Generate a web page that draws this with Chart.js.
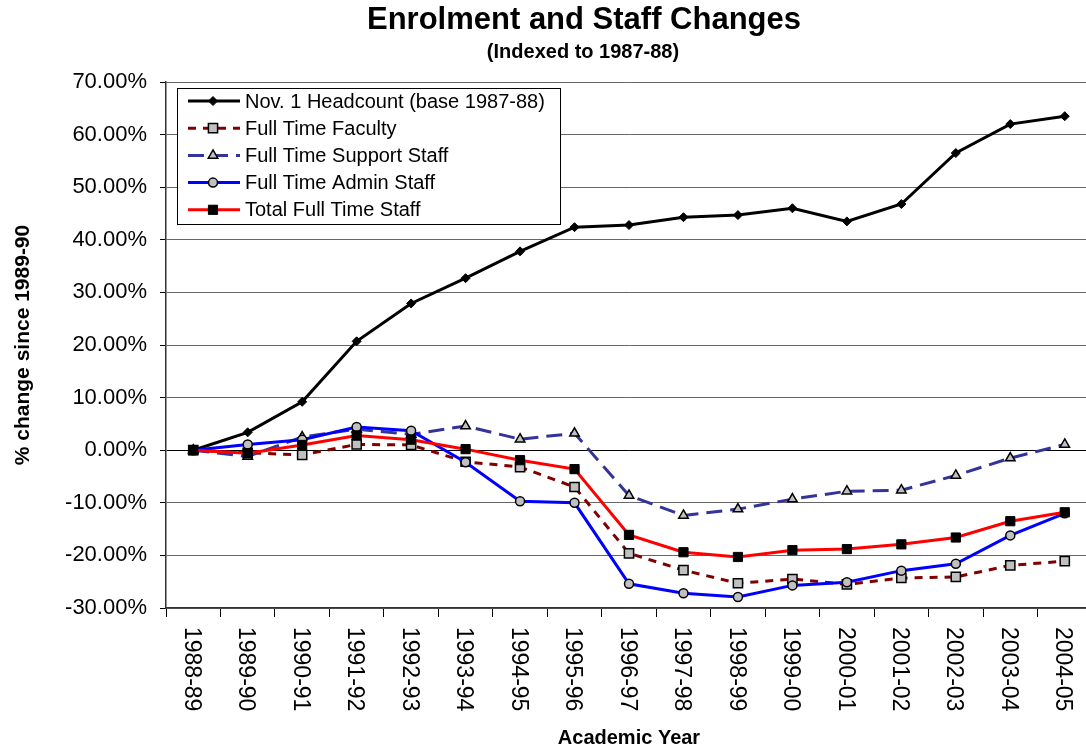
<!DOCTYPE html>
<html>
<head>
<meta charset="utf-8">
<title>Enrolment and Staff Changes</title>
<script src="https://cdn.jsdelivr.net/npm/chart.js@4.4.0/dist/chart.umd.min.js"></script>
<style>
  html, body { margin: 0; padding: 0; background: #fff; overflow: hidden; }
  #wrap { width: 1100px; height: 750px; }
</style>
</head>
<body>
<div id="wrap"><canvas id="chart" width="1100" height="750"></canvas></div>
<script>
const categories = ['1988-89', '1989-90', '1990-91', '1991-92', '1992-93', '1993-94', '1994-95', '1995-96',
    '1996-97', '1997-98', '1998-99', '1999-00', '2000-01', '2001-02', '2002-03', '2003-04', '2004-05'];

const headcount = [0, 3.4, 9.2, 20.7, 27.9, 32.7, 37.8, 42.4, 42.8, 44.3, 44.7, 46.0, 43.5, 46.8, 56.5, 62.0, 63.5];
const faculty = [0, -0.5, -0.9, 1.1, 1.0, -2.2, -3.2, -7.0, -19.6, -22.8, -25.3, -24.5, -25.5, -24.3, -24.1, -21.9, -21.1];
const support = [0, -1.2, 2.5, 4.0, 3.0, 4.6, 2.1, 3.2, -8.6, -12.4, -11.2, -9.3, -7.8, -7.6, -4.8, -1.5, 1.1];
const admin = [0, 1.1, 2.0, 4.4, 3.7, -2.3, -9.7, -10.0, -25.4, -27.2, -27.9, -25.7, -25.1, -22.9, -21.6, -16.2, -12.0];
const totalStaff = [0, -0.6, 1.0, 2.8, 2.0, 0.2, -1.9, -3.6, -16.1, -19.4, -20.3, -19.0, -18.8, -17.9, -16.6, -13.5, -11.8];

const yMin = -30;
const yMax = 70;
const yStep = 10;

const titleText = 'Enrolment and Staff Changes';
const subtitleText = '(Indexed to 1987-88)';

const FONT = '"Liberation Sans", Arial, Helvetica, sans-serif';
Chart.defaults.font.family = FONT;
Chart.defaults.color = '#000';

// Title block sits a bit right of the canvas centre in the original
const titleBlock = {
    id: 'titleBlock',
    afterDraw(chart) {
        const ctx = chart.ctx;
        ctx.save();
        ctx.fillStyle = '#000';
        ctx.textAlign = 'center';
        ctx.textBaseline = 'middle';
        ctx.font = 'bold 31px ' + FONT;
        ctx.fillText(titleText, 584, 20);
        ctx.font = 'bold 20px ' + FONT;
        ctx.fillText(subtitleText, 583, 52);
        ctx.restore();
    }
};

// Legend drawn inside the plot, like the original
const boxLegend = {
    id: 'boxLegend',
    afterDraw(chart) {
        const ctx = chart.ctx;
        const left = 177, top = 88, w = 383, h = 136;
        ctx.save();
        ctx.fillStyle = '#fff';
        ctx.fillRect(left, top, w, h);
        ctx.strokeStyle = '#000';
        ctx.lineWidth = 1;
        ctx.strokeRect(left + 0.5, top + 0.5, w, h);
        chart.data.datasets.forEach((ds, i) => {
            const y = 101 + i * 27.2;
            ctx.strokeStyle = ds.borderColor;
            ctx.lineWidth = ds.borderWidth;
            ctx.setLineDash(ds.borderDash || []);
            ctx.beginPath();
            ctx.moveTo(188, y);
            ctx.lineTo(240, y);
            ctx.stroke();
            ctx.setLineDash([]);
            ctx.fillStyle = ds.pointBackgroundColor;
            ctx.strokeStyle = ds.pointBorderColor;
            ctx.lineWidth = ds.pointBorderWidth;
            Chart.helpers.drawPoint(ctx, {
                pointStyle: ds.pointStyle,
                radius: ds.pointRadius,
                rotation: 0,
                borderWidth: ds.pointBorderWidth
            }, 213, y);
            ctx.fillStyle = '#000';
            ctx.font = '20px ' + FONT;
            ctx.textAlign = 'left';
            ctx.textBaseline = 'middle';
            ctx.fillText(ds.label, 245, y + 1);
        });
        ctx.restore();
    }
};

// Category labels rotated clockwise (top to bottom)
const downLabels = {
    id: 'downLabels',
    afterDraw(chart) {
        const ctx = chart.ctx;
        const xs = chart.scales.x;
        ctx.save();
        ctx.fillStyle = '#000';
        ctx.font = '23px ' + FONT;
        ctx.textAlign = 'left';
        ctx.textBaseline = 'middle';
        categories.forEach((c, i) => {
            const x = xs.getPixelForValue(i) - 2;
            ctx.save();
            ctx.translate(x, 627);
            ctx.rotate(Math.PI / 2);
            ctx.fillText(c, 0, 0);
            ctx.restore();
        });
        ctx.restore();
    }
};

const ctx = document.getElementById('chart').getContext('2d');
const chart = new Chart(ctx, {
    type: 'line',
    data: {
        labels: categories,
        datasets: [{
            label: 'Nov. 1 Headcount (base 1987-88)',
            data: headcount,
            borderColor: '#000000',
            borderWidth: 3,
            pointStyle: 'rectRot',
            pointRadius: 4.5,
            pointBackgroundColor: '#000000',
            pointBorderColor: '#000000',
            pointBorderWidth: 1,
            order: 4
        }, {
            label: 'Full Time Faculty',
            data: faculty,
            borderColor: '#800000',
            borderWidth: 3,
            borderDash: [8, 7],
            pointStyle: 'rect',
            pointRadius: 6.5,
            pointBackgroundColor: '#C0C0C0',
            pointBorderColor: '#000000',
            pointBorderWidth: 1.5,
            order: 3
        }, {
            label: 'Full Time Support Staff',
            data: support,
            borderColor: '#333399',
            borderWidth: 3,
            borderDash: [16, 8],
            pointStyle: 'triangle',
            pointRadius: 5.5,
            pointBackgroundColor: '#C0C0C0',
            pointBorderColor: '#000000',
            pointBorderWidth: 1.5,
            order: 2
        }, {
            label: 'Full Time Admin Staff',
            data: admin,
            borderColor: '#0000FF',
            borderWidth: 3,
            pointStyle: 'circle',
            pointRadius: 4.5,
            pointBackgroundColor: '#C0C0C0',
            pointBorderColor: '#000000',
            pointBorderWidth: 1.5,
            order: 1
        }, {
            label: 'Total Full Time Staff',
            data: totalStaff,
            borderColor: '#FF0000',
            borderWidth: 3,
            pointStyle: 'rect',
            pointRadius: 6.5,
            pointBackgroundColor: '#000000',
            pointBorderColor: '#000000',
            pointBorderWidth: 1,
            order: 0
        }]
    },
    options: {
        responsive: false,
        animation: false,
        layout: { padding: { left: 0, right: 3, top: 82, bottom: 0 } },
        elements: { line: { tension: 0 } },
        plugins: {
            legend: { display: false },
            tooltip: { enabled: false },
            title: { display: false }
        },
        scales: {
            x: {
                type: 'category',
                offset: true,
                afterFit(scale) { scale.height = 142; },
                grid: {
                    display: true,
                    drawOnChartArea: false,
                    offset: true,
                    tickLength: 9,
                    color: '#000',
                    lineWidth: 1
                },
                border: { display: true, color: '#333', width: 1.5 },
                ticks: { display: false },
                title: {
                    display: true,
                    text: 'Academic Year',
                    color: '#000',
                    font: { size: 20, weight: 'bold' },
                    padding: { top: 0, bottom: 0 }
                }
            },
            y: {
                min: yMin,
                max: yMax,
                afterFit(scale) { scale.width = 166; },
                grid: {
                    color: ctx => ctx.tick && ctx.tick.value === 0 ? '#000' : '#666',
                    lineWidth: 1,
                    tickLength: 6,
                    tickColor: '#000'
                },
                border: { display: true, color: '#333', width: 1.5 },
                ticks: {
                    stepSize: yStep,
                    color: '#000',
                    padding: 13,
                    font: { size: 22 },
                    callback: v => v.toFixed(2) + '%'
                },
                title: {
                    display: true,
                    text: '% change since 1989-90',
                    color: '#000',
                    font: { size: 21, weight: 'bold' },
                    padding: { top: 11, bottom: 0 }
                }
            }
        }
    },
    plugins: [downLabels, boxLegend, titleBlock]
});
</script>
</body>
</html>
